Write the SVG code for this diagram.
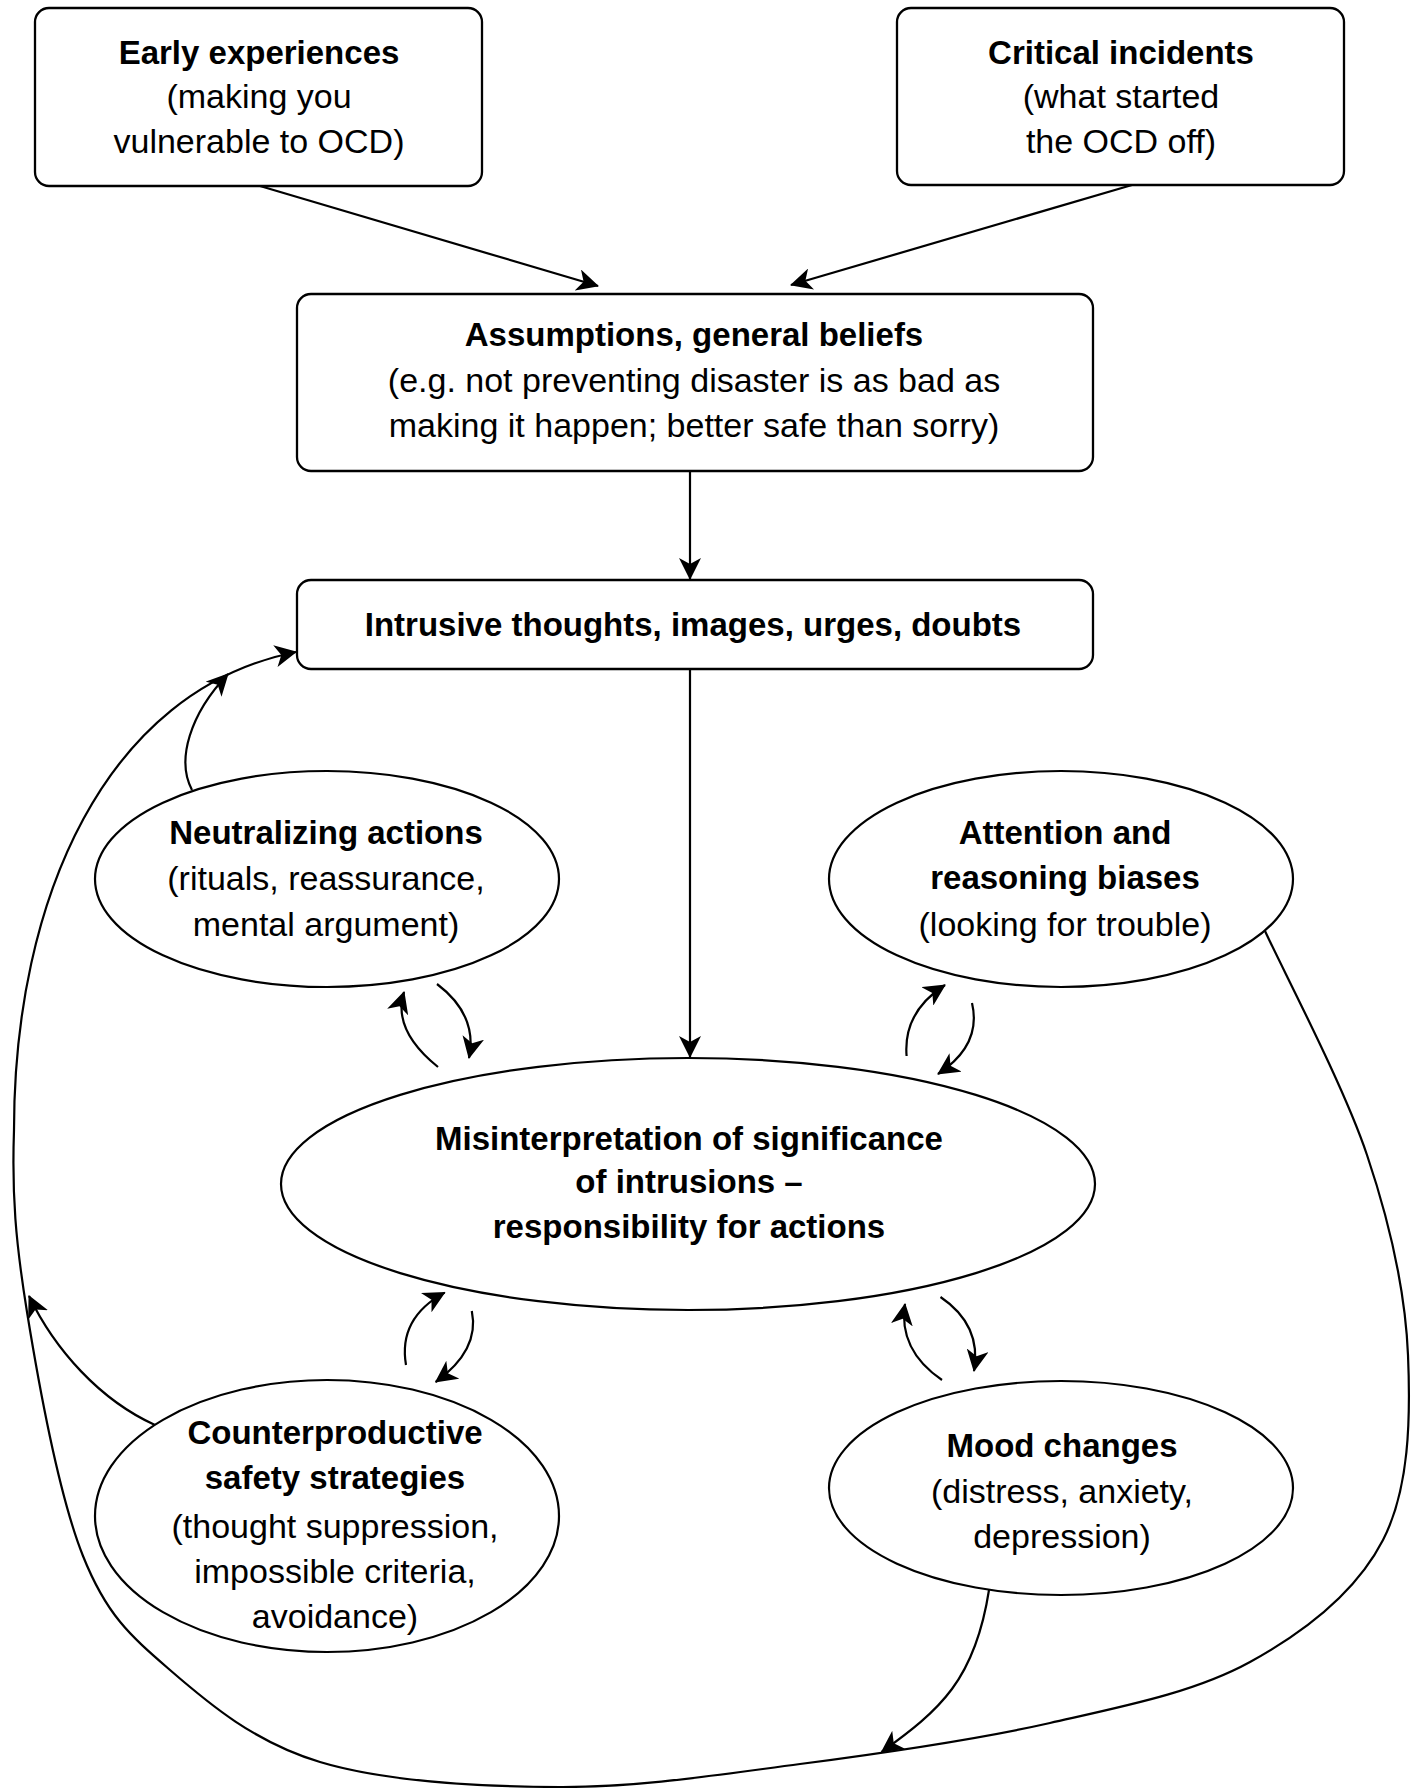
<svg xmlns="http://www.w3.org/2000/svg" width="1416" height="1788" viewBox="0 0 1416 1788">
<style>
.box{fill:#fff;stroke:#000;stroke-width:2.3}
.ell{fill:#fff;stroke:#000;stroke-width:2.2}
.con{fill:none;stroke:#000;stroke-width:2.2}
text{font-family:"Liberation Sans",Arial,sans-serif;text-anchor:middle;fill:#000}
.b{font-weight:bold;font-size:33px}
.r{font-size:34px}
</style>
<defs>
<marker id="ah" markerUnits="userSpaceOnUse" viewBox="0 0 22 22" markerWidth="22" markerHeight="22" refX="21" refY="11" orient="auto">
<path d="M0,0 L22,11 L0,22 L6,11 Z" fill="#000"/>
</marker>
</defs>
<rect width="1416" height="1788" fill="#fff"/>

<g id="connectors">
<path class="con" d="M260,186 L598,286" marker-end="url(#ah)"/>
<path class="con" d="M1132,185 L791,285" marker-end="url(#ah)"/>
<path class="con" d="M690,471 L690,579" marker-end="url(#ah)"/>
<path class="con" d="M690,669 L690,1057" marker-end="url(#ah)"/>
<path class="con" d="M192,790 C176,760 190,714 228,674" marker-end="url(#ah)"/>
<path class="con" d="M1265,931 C1282,968.3 1343.2,1084.3 1367,1155 C1390.8,1225.7 1405.3,1290.8 1408,1355 C1410.7,1419.2 1409.3,1488.8 1383,1540 C1356.7,1591.2 1305.5,1631.5 1250,1662 C1194.5,1692.5 1125,1706 1050,1723 C975,1740 881.7,1753.3 800,1764 C718.3,1774.7 640,1787.3 560,1787 C480,1786.7 385,1781.5 320,1762 C255,1742.5 209.5,1704.3 170,1670 C130.5,1635.7 106.8,1615.7 83,1556 C59.2,1496.3 38.5,1383 27,1312 C15.5,1241 11.8,1194.3 14,1130 C14,900 105,690 296,652" marker-end="url(#ah)"/>
<path class="con" d="M155,1425 C100,1400 55,1350 29,1296" marker-end="url(#ah)"/>
<path class="con" d="M989,1590 C975,1680 940,1710 881.6,1752" marker-end="url(#ah)"/>
<path class="con" d="M438,1067 Q392,1030 404,992" marker-end="url(#ah)"/>
<path class="con" d="M437,984 Q478,1015 469,1058" marker-end="url(#ah)"/>
<path class="con" d="M906.6,1056 Q903,1012 945,985" marker-end="url(#ah)"/>
<path class="con" d="M972,1003 Q982,1045 938,1074" marker-end="url(#ah)"/>
<path class="con" d="M406,1365 Q398,1318 444.7,1292.6" marker-end="url(#ah)"/>
<path class="con" d="M471.8,1311 Q480,1350 435.7,1382" marker-end="url(#ah)"/>
<path class="con" d="M942,1380 Q898,1350 905,1304" marker-end="url(#ah)"/>
<path class="con" d="M940.5,1297 Q982,1325 974,1371" marker-end="url(#ah)"/>
</g>

<g id="early">
<rect class="box" x="35" y="8" width="447" height="178" rx="14"/>
<text class="b" x="259" y="64">Early experiences</text>
<text class="r" x="259" y="108">(making you</text>
<text class="r" x="259" y="153">vulnerable to OCD)</text>
</g>
<g id="critical">
<rect class="box" x="897" y="8" width="447" height="177" rx="14"/>
<text class="b" x="1121" y="64">Critical incidents</text>
<text class="r" x="1121" y="108">(what started</text>
<text class="r" x="1121" y="153">the OCD off)</text>
</g>
<g id="assumptions">
<rect class="box" x="297" y="294" width="796" height="177" rx="14"/>
<text class="b" x="694" y="346">Assumptions, general beliefs</text>
<text class="r" x="694" y="392">(e.g. not preventing disaster is as bad as</text>
<text class="r" x="694" y="437">making it happen; better safe than sorry)</text>
</g>
<g id="intrusive">
<rect class="box" x="297" y="580" width="796" height="89" rx="14"/>
<text class="b" x="693" y="636">Intrusive thoughts, images, urges, doubts</text>
</g>
<g id="neutralizing">
<ellipse class="ell" cx="327" cy="879" rx="232" ry="108"/>
<text class="b" x="326" y="844">Neutralizing actions</text>
<text class="r" x="326" y="890">(rituals, reassurance,</text>
<text class="r" x="326" y="936">mental argument)</text>
</g>
<g id="attention">
<ellipse class="ell" cx="1061" cy="879" rx="232" ry="108"/>
<text class="b" x="1065" y="844">Attention and</text>
<text class="b" x="1065" y="889">reasoning biases</text>
<text class="r" x="1065" y="936">(looking for trouble)</text>
</g>
<g id="misinterpretation">
<ellipse class="ell" cx="688" cy="1184" rx="407" ry="126"/>
<text class="b" x="689" y="1150">Misinterpretation of significance</text>
<text class="b" x="689" y="1193">of intrusions –</text>
<text class="b" x="689" y="1238">responsibility for actions</text>
</g>
<g id="counterproductive">
<ellipse class="ell" cx="327" cy="1516" rx="232" ry="136"/>
<text class="b" x="335" y="1444">Counterproductive</text>
<text class="b" x="335" y="1489">safety strategies</text>
<text class="r" x="335" y="1538">(thought suppression,</text>
<text class="r" x="335" y="1583">impossible criteria,</text>
<text class="r" x="335" y="1628">avoidance)</text>
</g>
<g id="mood">
<ellipse class="ell" cx="1061" cy="1488" rx="232" ry="107"/>
<text class="b" x="1062" y="1457">Mood changes</text>
<text class="r" x="1062" y="1503">(distress, anxiety,</text>
<text class="r" x="1062" y="1548">depression)</text>
</g>
</svg>
